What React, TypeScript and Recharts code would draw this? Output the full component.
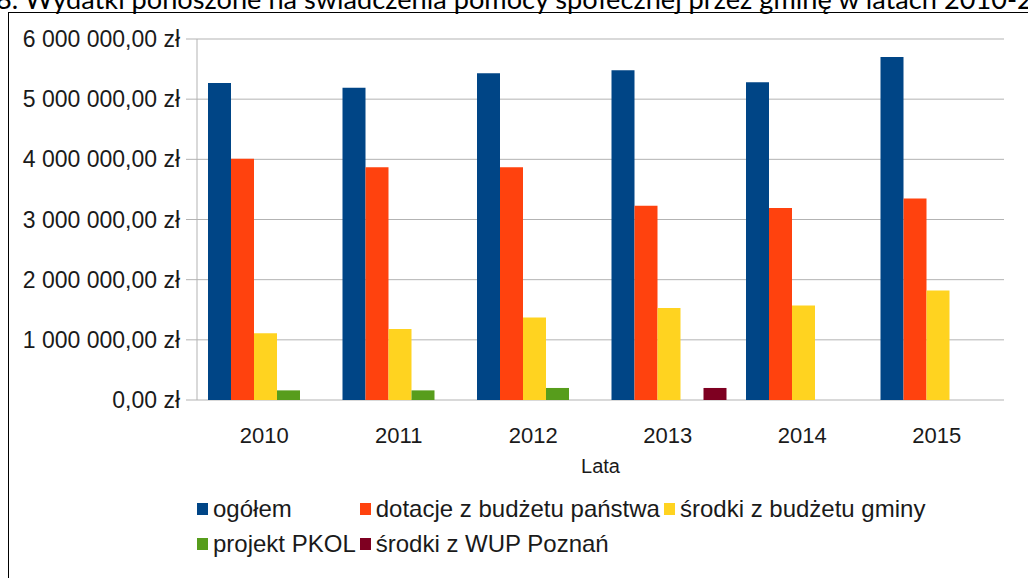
import React from 'react';
import { BarChart, Bar, XAxis, YAxis, CartesianGrid, ReferenceLine } from 'recharts';

const years = ['2010', '2011', '2012', '2013', '2014', '2015'];
const ogolem = [5270000, 5190000, 5430000, 5480000, 5280000, 5700000];
const dotacje = [4010000, 3870000, 3870000, 3230000, 3190000, 3350000];
const gmina = [1110000, 1180000, 1370000, 1530000, 1570000, 1820000];
const pkol = [160000, 160000, 200000, 0, 0, 0];
const wup = [0, 0, 0, 200000, 0, 0];
const yTicks = [0, 1000000, 2000000, 3000000, 4000000, 5000000, 6000000];
const boundaryTicks = [0, 1, 2, 3, 4, 5, 6];

const seriesNames = ['ogółem', 'dotacje z budżetu państwa', 'środki z budżetu gminy', 'projekt PKOL', 'środki z WUP Poznań'];
const seriesKeys = ['ogolem', 'dotacje', 'gmina', 'pkol', 'wup'];
const seriesColors = ['#004586', '#ff420e', '#ffd320', '#579d1c', '#7e0021'];
const seriesValues = [ogolem, dotacje, gmina, pkol, wup];

const title = '8. Wydatki ponoszone na świadczenia pomocy społecznej przez gminę w latach 2010-2015';
const xTitle = 'Lata';

const data = years.map((y, i) => {
  const row: Record<string, string | number> = { year: y };
  seriesKeys.forEach((k, s) => { row[k] = seriesValues[s][i]; });
  return row;
});

function fmtZl(v: number): string {
  const [i, d] = v.toFixed(2).split('.');
  return i.replace(/\B(?=(\d{3})+(?!\d))/g, ' ') + ',' + d + ' zł';
}

const FONT = '"Liberation Sans", Arial, sans-serif';
const TXT = '#1a1a1a';
const GRID = '#b3b3b3';

export default function App() {
  return (
    <div style={{ position: 'fixed', left: 0, top: 0, width: 1028, height: 578, overflow: 'hidden', background: '#fff' }}>
      <svg width={1028} height={14} style={{ position: 'absolute', left: 0, top: 0 }}>
        <text x={-4} y={9} fontFamily="Lato, 'Open Sans', sans-serif" fontSize={26} fill="#000"
          textLength={1084} lengthAdjust="spacingAndGlyphs">{title}</text>
      </svg>
      <div style={{ position: 'absolute', left: 8, top: 12, width: 1100, height: 700, border: '1px solid #000', boxSizing: 'border-box' }} />
      <div style={{ position: 'absolute', left: 0, top: 0 }}>
        <BarChart width={1028} height={578} data={data}
          margin={{ top: 39, right: 24, left: 0, bottom: 102 }}
          barCategoryGap={11} barGap={0} style={{ fontFamily: FONT }}>
          <CartesianGrid xAxisId="a" vertical={false} stroke={GRID} strokeDasharray="" />
          <XAxis xAxisId="b" type="number" domain={[0, 6]} ticks={boundaryTicks} height={0}
            tick={false} tickLine={{ stroke: GRID }} tickSize={11} axisLine={false} allowDataOverflow />
          <XAxis xAxisId="a" dataKey="year" height={76} tickLine={false} axisLine={false}
            tickSize={0} tickMargin={27}
            tick={{ fill: TXT, fontSize: 22, fontFamily: FONT }}
            label={{ value: xTitle, position: 'insideBottom', offset: 3, fill: TXT, fontSize: 20, fontFamily: FONT }} />
          <YAxis width={197} domain={[0, 6000000]} ticks={yTicks} tickFormatter={fmtZl}
            tickSize={11} tickMargin={6} tickLine={{ stroke: GRID }} axisLine={{ stroke: GRID }}
            tick={{ fill: TXT, fontSize: 23, fontFamily: FONT }} interval={0} />
          <ReferenceLine xAxisId="b" x={6} stroke={GRID} />
          {seriesKeys.map((k, s) => (
            <Bar key={k} xAxisId="a" dataKey={k} name={seriesNames[s]} fill={seriesColors[s]} isAnimationActive={false} />
          ))}
        </BarChart>
      </div>
      <div style={{ position: 'absolute', left: 197, top: 495, display: 'grid', gridTemplateColumns: 'auto auto auto',
        columnGap: 4, rowGap: 7, fontFamily: FONT, fontSize: 24, color: TXT, lineHeight: '28px' }}>
        {seriesNames.map((n, s) => (
          <div key={n} style={{ display: 'flex', alignItems: 'center' }}>
            <span style={{ display: 'inline-block', width: 11, height: 12, background: seriesColors[s], marginRight: 5 }} />
            <span>{n}</span>
          </div>
        ))}
      </div>
    </div>
  );
}
